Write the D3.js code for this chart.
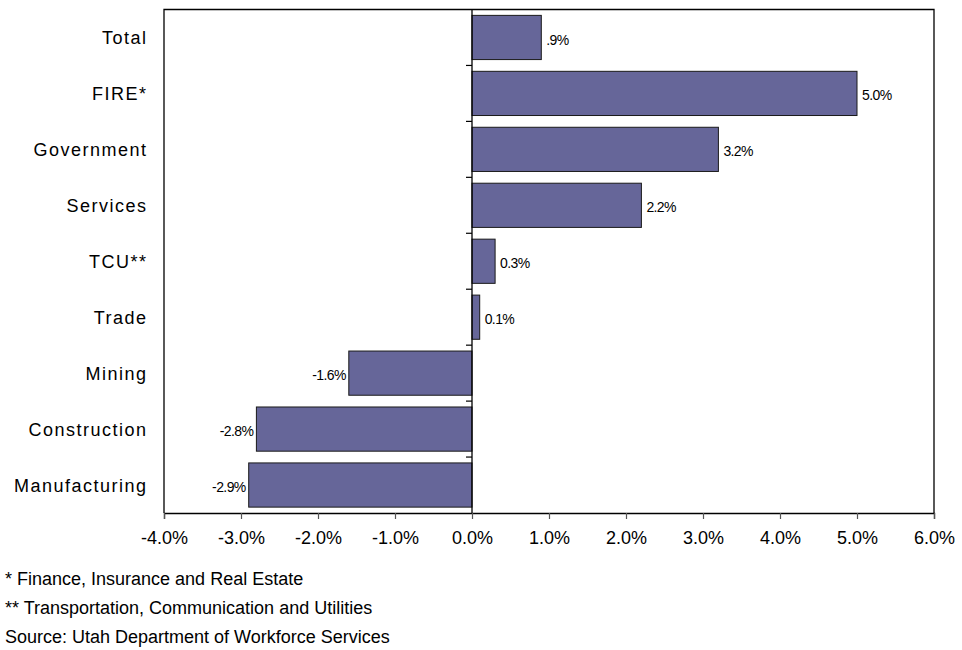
<!DOCTYPE html>
<html><head><meta charset="utf-8">
<script src="https://cdn.jsdelivr.net/npm/d3@7"></script>
<style>body{margin:0;background:#fff;} text{font-family:"Liberation Sans",Arial,sans-serif;fill:#000;}</style>
</head><body><svg id="c" width="962" height="650"></svg>
<script>
const categories = ["Total","FIRE*","Government","Services","TCU**","Trade","Mining","Construction","Manufacturing"];
const values = [0.9,5.0,3.2,2.2,0.3,0.1,-1.6,-2.8,-2.9];
const valueLabels = [".9%","5.0%","3.2%","2.2%","0.3%","0.1%","-1.6%","-2.8%","-2.9%"];
const xTicks = [-4,-3,-2,-1,0,1,2,3,4,5,6];
const footnotes = ["* Finance, Insurance and Real Estate","** Transportation, Communication and Utilities","Source: Utah Department of Workforce Services"];

const svg = d3.select("#c");
const L=164, R=934, T=9.5, B=513;
const x = d3.scaleLinear().domain([-4,6]).range([L,R]);
const y = d3.scaleBand().domain(categories).range([T,B]).paddingInner(0.21).paddingOuter(0.105);

// bars
svg.append("g").selectAll("rect").data(values).join("rect")
  .attr("x",(d)=>x(Math.min(0,d))).attr("width",d=>Math.abs(x(d)-x(0)))
  .attr("y",(d,i)=>y(categories[i])).attr("height",y.bandwidth())
  .attr("fill","#666699").attr("stroke","#1a1a1a").attr("stroke-width",1);

// frame
svg.append("path").attr("d",`M${L},${B}V${T}H${R}V${B}`).attr("fill","none").attr("stroke","#000").attr("stroke-width",1.3);

// x axis
const xa = svg.append("g").attr("transform",`translate(0,${B})`)
  .call(d3.axisBottom(x).tickValues(xTicks).tickFormat(d=>d.toFixed(1)+"%").tickSize(6).tickPadding(12));
xa.select(".domain").attr("stroke","#000").attr("stroke-width",1.3);
xa.selectAll(".tick line").attr("stroke","#555").attr("stroke-width",1.2);
xa.selectAll("text").attr("font-size","18px").attr("font-family","Liberation Sans, Arial, sans-serif");

// zero line with ticks at category boundaries
svg.append("line").attr("x1",x(0)).attr("x2",x(0)).attr("y1",T).attr("y2",B).attr("stroke","#000").attr("stroke-width",1.3);
const bounds = d3.range(1,categories.length).map(i=>T + (B-T)*i/categories.length);
svg.append("g").selectAll("line").data(bounds).join("line")
  .attr("x1",x(0)-6).attr("x2",x(0)).attr("y1",d=>d).attr("y2",d=>d).attr("stroke","#000").attr("stroke-width",1.2);

// category labels
svg.append("g").selectAll("text").data(categories).join("text")
  .attr("x",147.5).attr("y",d=>y(d)+y.bandwidth()/2).attr("dy","0.36em")
  .attr("text-anchor","end").attr("font-size","18px").attr("letter-spacing","1.5px").text(d=>d);

// value labels
svg.append("g").selectAll("text").data(values).join("text")
  .attr("x",d=>d>=0 ? x(d)+5 : x(d)-3)
  .attr("y",(d,i)=>y(categories[i])+y.bandwidth()/2+2).attr("dy","0.36em")
  .attr("text-anchor",d=>d>=0?"start":"end")
  .attr("font-size","14px").attr("letter-spacing","-0.6px")
  .text((d,i)=>valueLabels[i]);

// footnotes
svg.append("g").selectAll("text").data(footnotes).join("text")
  .attr("x",5).attr("y",(d,i)=>585+i*29).attr("font-size","18px").text(d=>d);
</script></body></html>
